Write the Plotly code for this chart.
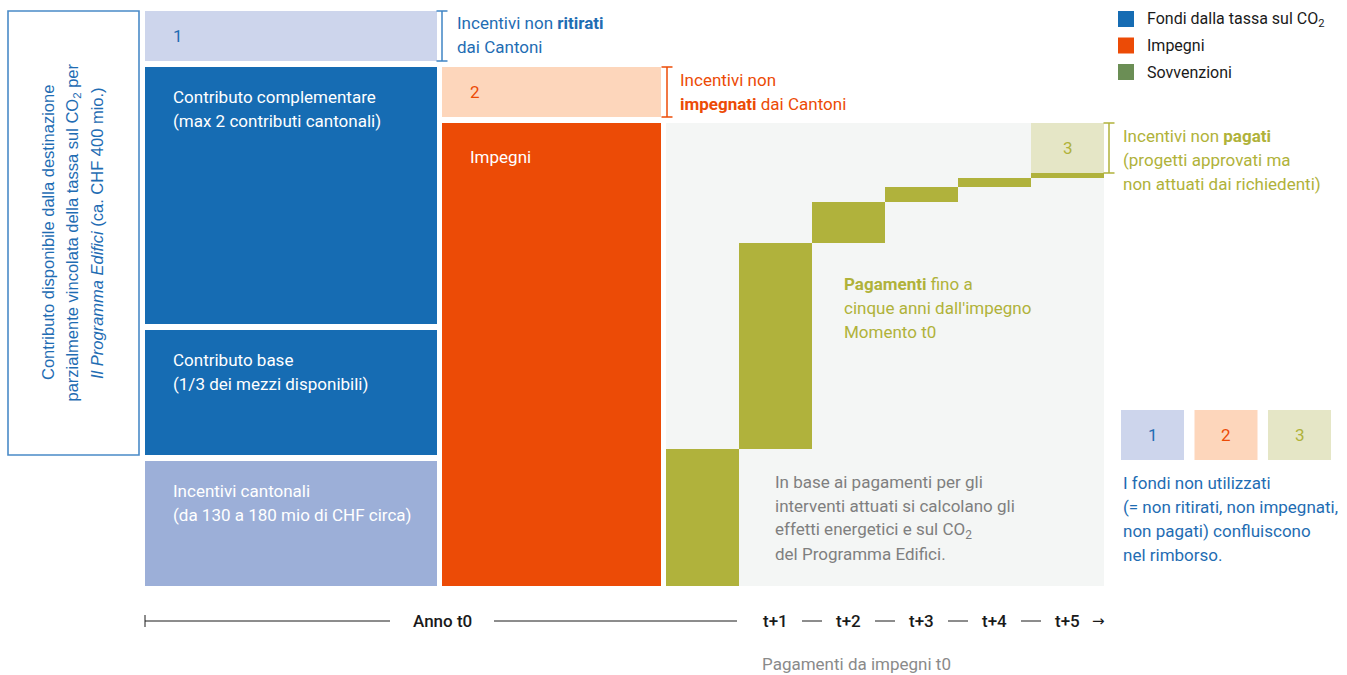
import plotly.graph_objects as go

# ---------------- data ----------------
# Column 1: available funds, stacked bottom -> top (relative amounts)
fund_labels = ["Incentivi cantonali", "Contributo base", "Contributo complementare", "1"]
fund_sublabels = ["(da 130 a 180 mio di CHF circa)", "(1/3 dei mezzi disponibili)",
                  "(max 2 contributi cantonali)", ""]
fund_values = [125, 125, 257, 50]

# Column 2: commitments, stacked bottom -> top
commit_labels = ["Impegni", "2"]
commit_values = [463, 50]

# Column 3: payments per year after commitment (waterfall) + unpaid remainder
pay_periods = ["t0", "t+1", "t+2", "t+3", "t+4", "t+5"]
pay_values = [137, 206, 41, 15, 9, 5]
unpaid_label = "3"
unpaid_value = 50

legend_labels = ["Fondi dalla tassa sul CO<sub>2</sub>", "Impegni", "Sovvenzioni"]

# ---------------- styles ----------------
W, H = 1347, 675
X0_PX, Y0_PX, SLOT_PX = 145, 586, 73      # pixel of x=0, pixel of y=0, px per slot
HGAP_PX, VGAP = 5, 6
FONT = "Roboto"
FS = 17
BLUE = "#166cb3"
BLUE_TXT = "#1f6db3"
BLUE_LIGHT = "#9cafd8"
BLUE_PALE = "#cdd5ec"
ORANGE = "#ec4b06"
ORANGE_PALE = "#fdd6bb"
GREEN = "#b0b23c"
GREEN_PALE = "#e5e6c6"
GREEN_TXT = "#b0b23a"
GREY_BG = "#f4f6f5"
GREY_TXT = "#7f7f7f"
LEG_GREEN = "#6b8e55"
INK = "#1a1a1a"

fund_colors = [BLUE_LIGHT, BLUE, BLUE, BLUE_PALE]
commit_colors = [ORANGE, ORANGE_PALE]


def xd(px):
    return (px - X0_PX) / SLOT_PX


def yd(py):
    return Y0_PX - py


fig = go.Figure()

g = HGAP_PX / SLOT_PX
col1 = (0.0, 4.0)
col2 = (col1[1] + g, col1[1] + g + 3.0)
col3_x0 = col2[1] + g
n_slots = len(pay_values)

# stacked bases
fund_bases = []
b = 0
for v in fund_values:
    fund_bases.append(b)
    b += v + VGAP
commit_bases = []
b = 0
for v in commit_values:
    commit_bases.append(b)
    b += v + VGAP
pay_bases = []
b = 0
for v in pay_values:
    pay_bases.append(b)
    b += v
paid_total = b


def bar(xc, w, base, h, colors):
    fig.add_trace(go.Bar(x=xc, y=h, base=base, width=w,
                         marker=dict(color=colors, line=dict(width=0)),
                         hoverinfo="skip", showlegend=False))


# grey background for payment period
bar([col3_x0 + n_slots / 2], [n_slots], [0], [commit_values[0]], [GREY_BG])
# funds column
bar([sum(col1) / 2] * len(fund_values), [col1[1] - col1[0]] * len(fund_values),
    fund_bases, fund_values, fund_colors)
# commitments column
bar([sum(col2) / 2] * len(commit_values), [col2[1] - col2[0]] * len(commit_values),
    commit_bases, commit_values, commit_colors)
# payments waterfall
bar([col3_x0 + i + 0.5 for i in range(n_slots)], [1.0] * n_slots,
    pay_bases, pay_values, [GREEN] * n_slots)
# unpaid
bar([col3_x0 + n_slots - 0.5], [1.0], [paid_total], [unpaid_value], [GREEN_PALE])


def note(x, y, text, color, size=FS, xanchor="left", yanchor="middle",
         family=FONT, angle=0, weight=400):
    fig.add_annotation(x=x, y=y, xref="x", yref="y", text=text, showarrow=False,
                       xanchor=xanchor, yanchor=yanchor, textangle=angle,
                       font=dict(family=family, size=size, color=color, weight=weight))


def line(x0, y0, x1, y1, color, width=1.5):
    fig.add_shape(type="line", xref="x", yref="y", x0=x0, y0=y0, x1=x1, y1=y1,
                  line=dict(color=color, width=width))


def bracket(x, y0, y1, color):
    c = 5.5 / SLOT_PX
    line(x, y0, x, y1, color)
    line(x - c, y0, x + c, y0, color)
    line(x - c, y1, x + c, y1, color)


# labels inside funds column
lx1 = col1[0] + 26 / SLOT_PX
for lab, sub, base, v in zip(fund_labels, fund_sublabels, fund_bases, fund_values):
    top = base + v
    if sub:
        note(lx1, top - 30, lab, "white")
        note(lx1, top - 54, sub, "white")
    else:
        note(lx1, base + v / 2, lab, BLUE_TXT)

lx2 = col2[0] + 26 / SLOT_PX
note(lx2, commit_bases[0] + commit_values[0] - 34, commit_labels[0], "white")
note(lx2, commit_bases[1] + commit_values[1] / 2, commit_labels[1], ORANGE)
note(col3_x0 + n_slots - 0.5, paid_total + unpaid_value / 2, unpaid_label, GREEN_TXT,
     xanchor="center")

# brackets + their texts
top1 = fund_bases[3] + fund_values[3]
bracket(col2[0], fund_bases[3], top1, "#3f85c5")
note(xd(455), top1 - 12, "Incentivi non <b>ritirati</b>", BLUE_TXT)
note(xd(455), top1 - 36, "dai Cantoni", BLUE_TXT)

top2 = commit_bases[1] + commit_values[1]
bracket(col3_x0 + 1 / SLOT_PX, commit_bases[1], top2, ORANGE)
note(xd(678), top2 - 13, "Incentivi non", ORANGE)
note(xd(678), top2 - 37, "<b>impegnati</b> dai Cantoni", ORANGE)

top3 = paid_total + unpaid_value
bracket(col3_x0 + n_slots + 5 / SLOT_PX, paid_total, top3, GREEN_TXT)
note(xd(1121), top3 - 13, "Incentivi non <b>pagati</b>", GREEN_TXT)
note(xd(1121), top3 - 37, "(progetti approvati ma", GREEN_TXT)
note(xd(1121), top3 - 61, "non attuati dai richiedenti)", GREEN_TXT)

# texts in payment area
for i, t in enumerate(["<b>Pagamenti</b> fino a", "cinque anni dall'impegno", "Momento t0"]):
    note(xd(842), yd(284 + 24 * i), t, GREEN_TXT)
for i, t in enumerate(["In base ai pagamenti per gli", "interventi attuati si calcolano gli",
                       "effetti energetici e sul CO<sub>2</sub>", "del Programma Edifici."]):
    note(xd(773), yd(482 + 24 * i), t, GREY_TXT)

# left outlined box with rotated text
fig.add_shape(type="rect", xref="x", yref="y", x0=xd(8), x1=xd(139),
              y0=fund_bases[1], y1=top1, line=dict(color="#4a8ac7", width=1.6),
              fillcolor="rgba(0,0,0,0)")
ymid = (fund_bases[1] + top1) / 2
left_lines = ["Contributo disponibile dalla destinazione",
              "parzialmente vincolata della tassa sul CO<sub>2</sub> per",
              "<i>Il Programma Edifici</i> (ca. CHF 400 mio.)"]
for i, t in enumerate(left_lines):
    note(xd(48 + 24.5 * i), ymid, t, BLUE_TXT, size=16.5, xanchor="center",
         family="Liberation Sans", angle=-90)

# legend (top right)
leg_colors = [BLUE, ORANGE, LEG_GREEN]
for i, (lab, c) in enumerate(zip(legend_labels, leg_colors)):
    ty = 11 + 26.5 * i
    fig.add_shape(type="rect", xref="x", yref="y", x0=xd(1118), x1=xd(1134),
                  y0=yd(ty), y1=yd(ty + 16), fillcolor=c, line=dict(width=0))
    note(xd(1145), yd(ty + 8), lab, INK, size=16)

# boxes 1 2 3 and refund note (bottom right)
box_cols = [BLUE_PALE, ORANGE_PALE, GREEN_PALE]
box_txt = [BLUE_TXT, ORANGE, GREEN_TXT]
for i, (lab, c, tc) in enumerate(zip(["1", "2", "3"], box_cols, box_txt)):
    bx = 1121 + 73.5 * i
    fig.add_shape(type="rect", xref="x", yref="y", x0=xd(bx), x1=xd(bx + 63),
                  y0=yd(410), y1=yd(460), fillcolor=c, line=dict(width=0))
    note(xd(bx + 31.5), yd(435), lab, tc, xanchor="center")
for i, t in enumerate(["I fondi non utilizzati", "(= non ritirati, non impegnati,",
                       "non pagati) confluiscono", "nel rimborso."]):
    note(xd(1121), yd(483 + 24 * i), t, BLUE_TXT)

# time axis at bottom
ay = yd(621)
t0_end = col3_x0 + 1 - 2 / SLOT_PX
t0_mid = (col1[0] + col3_x0 + 1) / 2
line(col1[0], ay, t0_mid - 52 / SLOT_PX, ay, INK, 1)
line(col1[0], yd(615), col1[0], yd(627), INK, 1)
note(t0_mid, ay, "Anno t0", INK, xanchor="center", weight=500)
line(t0_mid + 52 / SLOT_PX, ay, t0_end, ay, INK, 1)
for k in range(1, n_slots):
    note(col3_x0 + k + 0.5, ay, pay_periods[k], INK, xanchor="center", weight=500)
    if k < n_slots - 1:
        xb = col3_x0 + k + 1
        line(xb - 10 / SLOT_PX, ay, xb + 10 / SLOT_PX, ay, INK, 1)
note(col3_x0 + n_slots - 0.5 + 31 / SLOT_PX, ay, "→", INK, size=15, xanchor="center",
     family="DejaVu Sans")
note(xd(760), yd(664), "Pagamenti da impegni t0", "#8a8a8a")

fig.update_layout(
    width=W, height=H, margin=dict(l=0, r=0, t=0, b=0),
    paper_bgcolor="white", plot_bgcolor="white",
    barmode="overlay", showlegend=False,
    xaxis=dict(range=[xd(0), xd(W)], visible=False, fixedrange=True),
    yaxis=dict(range=[yd(H), yd(0)], visible=False, fixedrange=True),
    font=dict(family=FONT),
)
fig.write_html("out.html", config={"displayModeBar": False},
               post_script="document.body.style.margin='0';")
